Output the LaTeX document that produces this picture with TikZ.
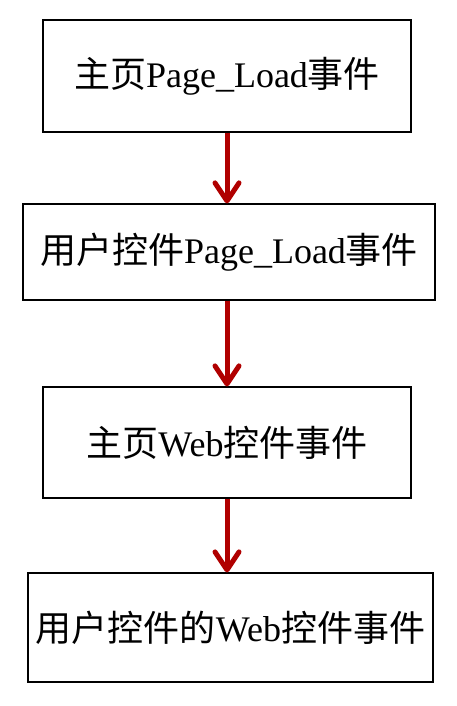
\documentclass[tikz,border=0pt]{standalone}
\usepackage{fontspec}
\setmainfont{Liberation Serif}
\newfontfamily\cjk{Noto Sans CJK SC}
\newcommand{\zh}[1]{{\cjk #1}}
\usetikzlibrary{arrows.meta,positioning}
\definecolor{flowred}{HTML}{B00000}
\tikzset{evt/.style={draw=black, line width=1.2pt, inner sep=0pt, font=\fontsize{36}{40}\selectfont}, flow/.style={-{Straight Barb[length=18pt,width=24pt,round]}, line width=5pt, color=flowred}}

\begin{document}
\begin{tikzpicture}[x=1pt,y=-1pt]
\useasboundingbox (0,0) rectangle (456,706);
\node[evt, minimum width=368pt, minimum height=112pt] (home) at (227,76) {\zh{主页}Page\_Load\zh{事件}};
\node[evt, minimum width=412pt, minimum height=96pt] (ucload) at (229,252) {\zh{用户控件}Page\_Load\zh{事件}};
\node[evt, minimum width=368pt, minimum height=111pt] (homeweb) at (227,442.5) {\zh{主页}Web\zh{控件事件}};
\node[evt, minimum width=405pt, minimum height=109pt] (ucweb) at (230.5,627.5) {\zh{用户控件的}Web\zh{控件事件}};
\draw[flow] (home.south) -- (home.south |- ucload.north);
\draw[flow] (ucload.south -| home.south) -- (home.south |- homeweb.north);
\draw[flow] (homeweb.south) -- (homeweb.south |- ucweb.north);
\end{tikzpicture}
\end{document}
